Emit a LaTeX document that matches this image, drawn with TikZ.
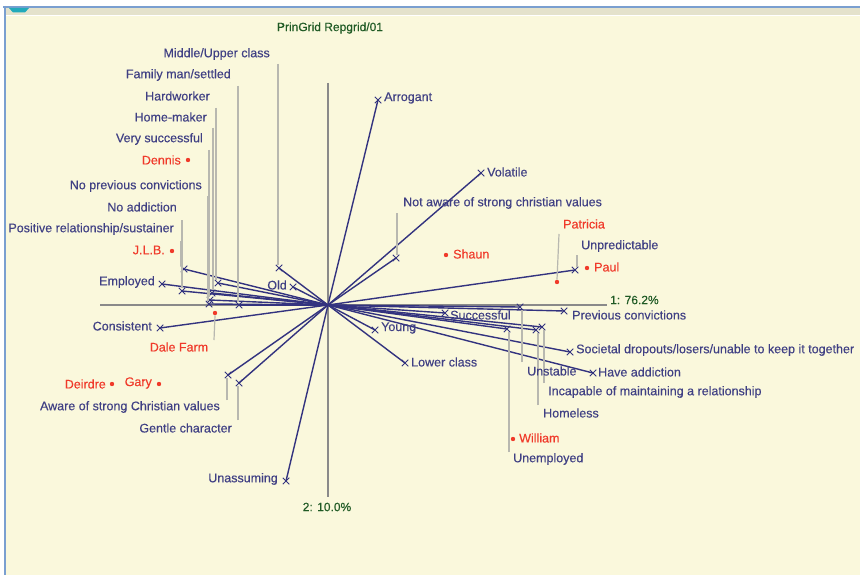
\documentclass[tikz,border=0pt]{standalone}
\usepackage{fontspec}
\setmainfont{Liberation Sans}[FakeBold=0.35]
\usetikzlibrary{shapes.misc}
\definecolor{bgy}{HTML}{FAF8DC}
\definecolor{barg}{HTML}{E4E2CC}
\definecolor{frameblue}{HTML}{7A9FD0}
\definecolor{tabc}{HTML}{22AABB}
\definecolor{linec}{HTML}{33337F}
\definecolor{txtc}{HTML}{404084}
\definecolor{elred}{HTML}{F03A2A}
\definecolor{axgreen}{HTML}{1F5A24}
\definecolor{axisg}{HTML}{8A8A8A}
\definecolor{leadg}{HTML}{B8B8B0}
\tikzset{
  mk/.style={cross out, draw=linec, line width=1pt, minimum size=5.5pt, inner sep=0pt},
  cline/.style={draw=linec, line width=1.4pt},
  axisline/.style={draw=axisg, line width=1.5pt},
  leader/.style={draw=leadg, line width=1.2pt},
  lbl/.style={text=txtc, inner sep=0pt, font=\fontsize{12.5}{14}\selectfont},
  elbl/.style={text=elred, inner sep=0pt, font=\fontsize{12.5}{14}\selectfont},
  glbl/.style={text=axgreen, inner sep=0pt, font=\fontsize{12}{14}\selectfont},
  dot/.style={circle, fill=elred, inner sep=0pt, minimum size=4.4pt}
}
\begin{document}
\begin{tikzpicture}[x=1pt,y=-1pt]
\useasboundingbox (0,0) rectangle (860,575);
\fill[white] (0,0) rectangle (860,575);
\fill[bgy] (6,16) rectangle (860,575);
\fill[barg] (6,8) rectangle (860,15);
\draw[frameblue, line width=2pt] (3,7) -- (860,7);
\draw[frameblue, line width=2.4pt] (5,6) -- (5,575);
\fill[tabc] (9,8) -- (29,8) -- (25,12.5) -- (13,12.5) -- cycle;

% title and axes
\node[glbl] (title) at (330,28) {PrinGrid Repgrid/01};
\coordinate (O) at (328,305);
\coordinate (axL) at (100,305);
\coordinate (axR) at (607,305);
\coordinate (axT) at (328,83);
\coordinate (axB) at (328,497);
\draw[axisline] (axL) -- (axR);
\draw[axisline] (axT) -- (axB);
\node[glbl, anchor=west] (ax1) at (610,300) {1: 76.2\%};
\node[glbl] (ax2) at (327,507) {2: 10.0\%};

% construct markers
\node[mk] (mMU) at (279,268) {};
\node[mk] (mFM) at (239,305) {};
\node[mk] (mHW) at (218,283) {};
\node[mk] (mHM) at (212,293) {};
\node[mk] (mVS) at (210,300) {};
\node[mk] (mNP) at (209,304) {};
\node[mk] (mNA) at (182,291) {};
\node[mk] (mPR) at (184,269) {};
\node[mk] (mEM) at (162,284) {};
\node[mk] (mCO) at (160,328) {};
\node[mk] (mOL) at (293,287) {};
\node[mk] (mAW) at (228,375) {};
\node[mk] (mGE) at (239,383) {};
\node[mk] (mUA) at (286,481) {};
\node[mk] (mAR) at (378,100) {};
\node[mk] (mVO) at (481,173) {};
\node[mk] (mNW) at (396,258) {};
\node[mk] (mUP) at (575,270) {};
\node[mk] (mYO) at (375,330) {};
\node[mk] (mLC) at (405,363) {};
\node[mk] (mSU) at (445,313) {};
\node[mk] (mUS) at (520,307) {};
\node[mk] (mPC) at (564,311) {};
\node[mk] (mUE) at (507,329) {};
\node[mk] (mHL) at (536,330) {};
\node[mk] (mIN) at (542,327) {};
\node[mk] (mSD) at (570,352) {};
\node[mk] (mHA) at (593,373) {};

% construct lines
\foreach \m in {mMU,mFM,mHW,mHM,mVS,mNP,mNA,mPR,mEM,mCO,mOL,mAW,mGE,mUA,mAR,mVO,mNW,mUP,mYO,mLC,mSU,mUS,mPC,mUE,mHL,mIN,mSD,mHA}
  \draw[cline] (O) -- (\m.center);

% leader top ends
\coordinate (tMU) at (278,64);
\coordinate (tFM) at (238,86);
\coordinate (tHW) at (216,108);
\coordinate (tHM) at (213,128);
\coordinate (tVS) at (209,150);
\coordinate (tNP) at (208,196);
\coordinate (tNA) at (182,220);
\coordinate (tPR) at (181,241);
\coordinate (tAW) at (227,400);
\coordinate (tGE) at (238,420);
\coordinate (tNW) at (397,213);
\coordinate (tUP) at (577,255);
\coordinate (tUS) at (522,362);
\coordinate (tUE) at (509,452);
\coordinate (tHL) at (538,405);
\coordinate (tIN) at (544,383);
\draw[leader] (tMU) -- (tMU |- mMU.north);
\draw[leader] (tFM) -- (tFM |- mFM.north);
\draw[leader] (tHW) -- (tHW |- mHW.north);
\draw[leader] (tHM) -- (tHM |- mHM.north);
\draw[leader] (tVS) -- (tVS |- mVS.north);
\draw[leader] (tNP) -- (tNP |- mNP.north);
\draw[leader] (tNA) -- (tNA |- mNA.north);
\draw[leader] (tPR) -- (tPR |- mPR.north);
\draw[leader] (tAW) -- (tAW |- mAW.south);
\draw[leader] (tGE) -- (tGE |- mGE.south);
\draw[leader] (tNW) -- (tNW |- mNW.north);
\draw[leader] (tUP) -- (tUP |- mUP.north);
\draw[leader] (tUS) -- (tUS |- mUS.south);
\draw[leader] (tUE) -- (tUE |- mUE.south);
\draw[leader] (tHL) -- (tHL |- mHL.south);
\draw[leader] (tIN) -- (tIN |- mIN.south);

% left construct labels
\node[lbl, anchor=east] (lMU) at (270,54) {Middle/Upper class};
\node[lbl, anchor=east] (lFM) at (231,75) {Family man/settled};
\node[lbl, anchor=east] (lHW) at (210,96) {Hardworker};
\node[lbl, anchor=east] (lHM) at (207,117) {Home-maker};
\node[lbl, anchor=east] (lVS) at (203,139) {Very successful};
\node[lbl, anchor=east] (lNP) at (202,186) {No previous convictions};
\node[lbl, anchor=east] (lNA) at (177,207) {No addiction};
\node[lbl, anchor=east] (lPR) at (174,229) {Positive relationship/sustainer};
\node[lbl, anchor=east] (lEM) at (155,282) {Employed};
\node[lbl, anchor=east] (lCO) at (152,326) {Consistent};
\node[lbl, anchor=east] (lOL) at (287,285) {Old};
\node[lbl, anchor=east] (lAW) at (220,407) {Aware of strong Christian values};
\node[lbl, anchor=east] (lGE) at (232,428) {Gentle character};
\node[lbl, anchor=east] (lUA) at (278,479) {Unassuming};

% right construct labels
\node[lbl, anchor=west] (lAR) at (384,98) {Arrogant};
\node[lbl, anchor=west] (lVO) at (487,172) {Volatile};
\node[lbl, anchor=west] (lNW) at (403,203) {Not aware of strong christian values};
\node[lbl, anchor=west] (lUP) at (581,246) {Unpredictable};
\node[lbl, anchor=west] (lYO) at (381,328) {Young};
\node[lbl, anchor=west] (lLC) at (411,362) {Lower class};
\node[lbl, anchor=west] (lSU) at (450,315) {Successful};
\node[lbl, anchor=west] (lPC) at (572,315) {Previous convictions};
\node[lbl, anchor=west] (lSD) at (576,350) {Societal dropouts/losers/unable to keep it together};
\node[lbl, anchor=west] (lUS) at (527,371) {Unstable};
\node[lbl, anchor=west] (lHA) at (598,372) {Have addiction};
\node[lbl, anchor=west] (lIN) at (548,392) {Incapable of maintaining a relationship};
\node[lbl, anchor=west] (lHL) at (543,413) {Homeless};
\node[lbl, anchor=west] (lUE) at (513,459) {Unemployed};

% elements
\node[dot] (eDE) at (188,160) {};
\node[elbl, anchor=east] (lDE) at (181,160) {Dennis};
\node[dot] (eJL) at (172,251) {};
\node[elbl, anchor=east] (lJL) at (165,250) {J.L.B.};
\node[dot] (eDF) at (215,313) {};
\node[elbl] (lDF) at (179,347) {Dale Farm};
\coordinate (tDF) at (214,340);
\draw[leader] (eDF.south) -- (tDF);
\node[dot] (eDI) at (112,384) {};
\node[elbl, anchor=east] (lDI) at (106,384) {Deirdre};
\node[dot] (eGA) at (159,384) {};
\node[elbl, anchor=east] (lGA) at (152,383) {Gary};
\node[dot] (eSH) at (446,255) {};
\node[elbl, anchor=west] (lSH) at (453,254) {Shaun};
\node[dot] (ePA) at (557,282) {};
\node[elbl, anchor=west] (lPA) at (563,224) {Patricia};
\coordinate (tPA) at (559,234);
\draw[leader] (ePA.north) -- (tPA);
\node[dot] (ePL) at (587,268) {};
\node[elbl, anchor=west] (lPL) at (594,267) {Paul};
\node[dot] (eWI) at (513,439) {};
\node[elbl, anchor=west] (lWI) at (519,438) {William};
\end{tikzpicture}
\end{document}
